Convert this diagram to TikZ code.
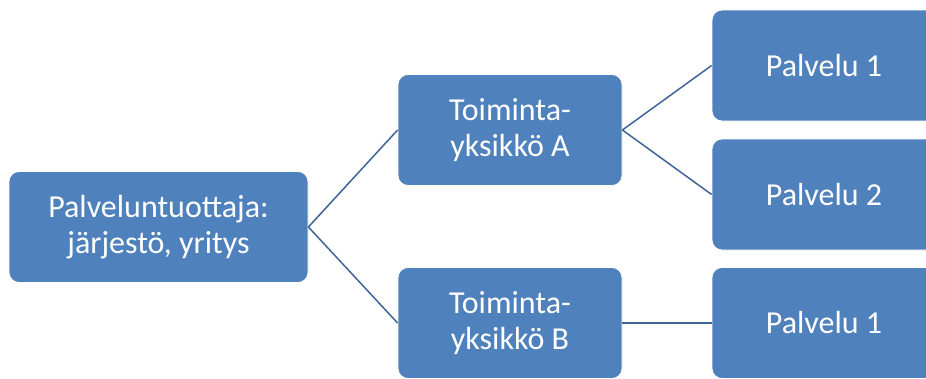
\documentclass[tikz,border=0pt]{standalone}
\usepackage{fontspec}
\setmainfont{Carlito}
\usepackage{xcolor}
\definecolor{boxblue}{RGB}{79,129,189}
\definecolor{linkblue}{RGB}{65,100,150}

\tikzset{
  orgbox/.style={draw=white, line width=0.8pt, fill=boxblue, rounded corners=10pt,
    text=white, align=center, inner sep=0pt, minimum height=111pt,
    font=\fontsize{32}{36}\selectfont},
  link/.style={draw=linkblue, line width=1.5pt}
}

\begin{document}
\begin{tikzpicture}[x=1pt, y=1pt]
\clip (0,0) rectangle (926,-378);
\fill[white] (0,0) rectangle (926,-378);

\node (root) at (158.5,-227) [orgbox, minimum width=299pt] {Palveluntuottaja:\\järjestö, yritys};
\node (unitA) at (510,-130) [orgbox, minimum width=224pt] {Toiminta-\\yksikkö A};
\node (unitB) at (510,-323) [orgbox, minimum width=224pt] {Toiminta-\\yksikkö B};
\node (servA1) at (824,-65.5) [orgbox, minimum width=224pt] {Palvelu 1};
\node (servA2) at (824,-194.5) [orgbox, minimum width=224pt] {Palvelu 2};
\node (servB1) at (824,-323) [orgbox, minimum width=224pt] {Palvelu 1};

\draw [link] (root.east) -- (unitA.west);
\draw [link] (root.east) -- (unitB.west);
\draw [link] (unitA.east) -- (servA1.west);
\draw [link] (unitA.east) -- (servA2.west);
\draw [link] (unitB.east) -- (servB1.west);
\end{tikzpicture}
\end{document}
